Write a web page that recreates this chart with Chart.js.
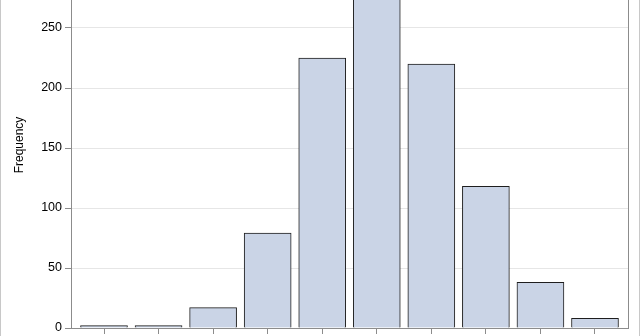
<!DOCTYPE html>
<html>
<head>
<meta charset="utf-8">
<script src="https://cdn.jsdelivr.net/npm/chart.js@4"></script>
<style>
  html, body { margin: 0; padding: 0; background: #fff; }
  /* the picture is a crop: the plot's top runs off the window */
  #wrap { width: 640px; height: 336px; overflow: hidden; position: relative; }
  #histChart { position: absolute; left: 0; top: -38px; }
</style>
</head>
<body>
<div id="wrap"><canvas id="histChart" width="640" height="374"></canvas></div>
<script>
// bin index for each bar (x labels are cut off in the picture)
const binCenters = [0, 1, 2, 3, 4, 5, 6, 7, 8, 9];
const frequencies = [2, 2, 17, 79, 225, 291, 220, 118, 38, 8];
const yTicks = [0, 50, 100, 150, 200, 250];

const axisGray = "#8c8c8c";

// light frame round the graph and right edge of the plot area
const framePlugin = {
    id: "frame",
    afterDraw(chart) {
        const ctx = chart.ctx;
        const area = chart.chartArea;
        ctx.save();
        ctx.strokeStyle = "#c8c8c8";
        ctx.lineWidth = 1;
        ctx.beginPath();
        ctx.moveTo(0.5, 0);
        ctx.lineTo(0.5, chart.height);
        ctx.moveTo(chart.width - 0.5, 0);
        ctx.lineTo(chart.width - 0.5, chart.height);
        ctx.stroke();
        ctx.strokeStyle = axisGray;
        ctx.beginPath();
        ctx.moveTo(Math.round(area.right) + 0.5, area.top);
        ctx.lineTo(Math.round(area.right) + 0.5, area.bottom);
        ctx.stroke();
        ctx.restore();
    }
};

const ctx = document.getElementById("histChart").getContext("2d");

new Chart(ctx, {
    type: "bar",
    data: {
        datasets: [{
            label: "Frequency",
            data: binCenters.map((x, i) => ({ x: x, y: frequencies[i] })),
            backgroundColor: "#cad4e6",
            borderColor: "#1e1e1e",
            borderWidth: 1,
            barThickness: 47
        }]
    },
    options: {
        responsive: false,
        animation: false,
        layout: { padding: { left: 0, top: 0, bottom: 0, right: 12 } },
        plugins: {
            legend: { display: false },
            tooltip: { enabled: false }
        },
        scales: {
            x: {
                type: "linear",
                min: -0.605,
                max: 9.605,
                offset: false,
                afterBuildTicks: (scale) => {
                    scale.ticks = binCenters.map(v => ({ value: v }));
                },
                afterFit: (scale) => {
                    scale.height = 8;
                    scale.paddingLeft = 0;
                    scale.paddingRight = 0;
                },
                ticks: { display: false },
                grid: {
                    offset: false,
                    drawOnChartArea: false,
                    tickLength: 6,
                    tickColor: axisGray
                },
                border: { color: axisGray }
            },
            y: {
                min: 0,
                max: 305,
                afterBuildTicks: (scale) => {
                    scale.ticks = yTicks.map(v => ({ value: v }));
                },
                afterFit: (scale) => {
                    scale.width = 71;
                    scale.paddingTop = 0;
                    scale.paddingBottom = 0;
                },
                ticks: {
                    color: "#000",
                    padding: 3,
                    font: { family: "'Liberation Sans', Arial, sans-serif", size: 12.5 }
                },
                grid: {
                    color: "#e6e6e6",
                    tickLength: 6,
                    tickColor: axisGray
                },
                border: { color: axisGray },
                title: {
                    display: true,
                    text: "Frequency",
                    color: "#000",
                    padding: { top: 12, bottom: 0 },
                    font: { family: "'Liberation Sans', Arial, sans-serif", size: 12 }
                }
            }
        }
    },
    plugins: [framePlugin]
});
</script>
</body>
</html>
